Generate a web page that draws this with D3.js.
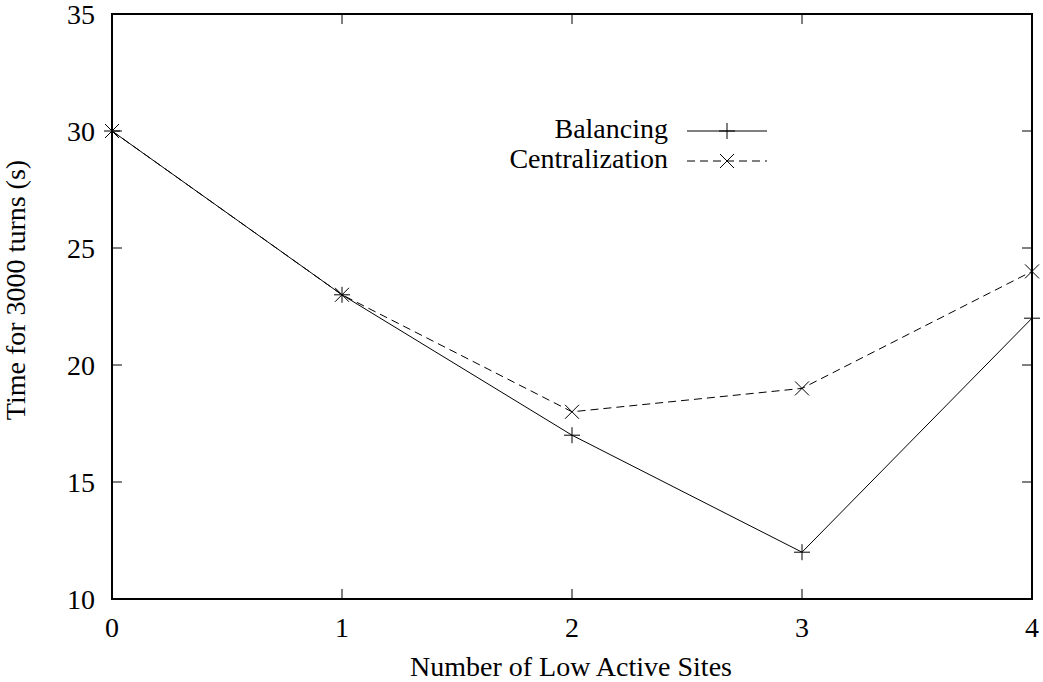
<!DOCTYPE html>
<html>
<head>
<meta charset="utf-8">
<script src="https://cdn.jsdelivr.net/npm/d3@7"></script>
<style>
  body { margin: 0; background: #fff; }
  text { font-family: "Liberation Serif", "Times New Roman", serif; font-size: 28px; fill: #000; }
</style>
</head>
<body>
<div id="app"></div>
<script>
const sites = [0, 1, 2, 3, 4];
const balancing = [30, 23, 17, 12, 22];
const centralization = [30, 23, 18, 19, 24];
const yTicks = [10, 15, 20, 25, 30, 35];
const seriesNames = ['Balancing', 'Centralization'];

const width = 1043, height = 682;
const padL = 112, padR = 1032, padT = 14, padB = 599;

const svg = d3.select('#app').append('svg').attr('width', width).attr('height', height);

const x = d3.scaleLinear().domain([0, 4]).range([padL, padR]);
const y = d3.scaleLinear().domain([10, 35]).range([padB, padT]);

// ticks (gnuplot style, inside, mirrored)
const tk = 10;
sites.forEach(v => {
    svg.append('line').attr('x1', x(v)).attr('x2', x(v)).attr('y1', padB).attr('y2', padB - tk).attr('stroke', '#000');
    svg.append('line').attr('x1', x(v)).attr('x2', x(v)).attr('y1', padT).attr('y2', padT + tk).attr('stroke', '#000');
    svg.append('text').attr('x', x(v)).attr('y', 637).attr('text-anchor', 'middle').text(v);
});
yTicks.forEach(v => {
    svg.append('line').attr('x1', padL).attr('x2', padL + tk).attr('y1', y(v)).attr('y2', y(v)).attr('stroke', '#000');
    svg.append('line').attr('x1', padR).attr('x2', padR - tk).attr('y1', y(v)).attr('y2', y(v)).attr('stroke', '#000');
    svg.append('text').attr('x', 95).attr('y', y(v) + 10).attr('text-anchor', 'end').text(v);
});

svg.append('text').attr('x', 571).attr('y', 676).attr('text-anchor', 'middle').text('Number of Low Active Sites');
svg.append('text').attr('transform', 'translate(25,290) rotate(-90)')
    .attr('text-anchor', 'middle').text('Time for 3000 turns (s)');

const line = d3.line().x((d, i) => x(sites[i])).y(d => y(d));

function plus(g, cx, cy) {
    g.append('path').attr('d', `M${cx - 8},${cy}H${cx + 8}M${cx},${cy - 8}V${cy + 8}`).attr('stroke', '#000').attr('fill', 'none');
}
function cross(g, cx, cy) {
    const s = 7;
    g.append('path').attr('d', `M${cx - s},${cy - s}L${cx + s},${cy + s}M${cx - s},${cy + s}L${cx + s},${cy - s}`).attr('stroke', '#000').attr('fill', 'none');
}

svg.append('path').datum(balancing).attr('d', line).attr('fill', 'none').attr('stroke', '#000').attr('stroke-width', 1);
svg.append('path').datum(centralization).attr('d', line).attr('fill', 'none').attr('stroke', '#000').attr('stroke-width', 1).attr('stroke-dasharray', '8,5');

balancing.forEach((d, i) => plus(svg, x(sites[i]), y(d)));
centralization.forEach((d, i) => cross(svg, x(sites[i]), y(d)));

// legend
const legY = [131, 161];
seriesNames.forEach((name, i) => {
    svg.append('text').attr('x', 668).attr('y', legY[i] + 7).attr('text-anchor', 'end').text(name);
    const l = svg.append('line').attr('x1', 687).attr('x2', 767).attr('y1', legY[i]).attr('y2', legY[i]).attr('stroke', '#000');
    if (i === 0) plus(svg, 727, legY[i]);
    else { l.attr('stroke-dasharray', '8,5'); cross(svg, 727, legY[i]); }
});

svg.append('rect').attr('x', padL).attr('y', padT).attr('width', padR - padL).attr('height', padB - padT)
    .attr('fill', 'none').attr('stroke', '#000').attr('stroke-width', 2);
</script>
</body>
</html>
